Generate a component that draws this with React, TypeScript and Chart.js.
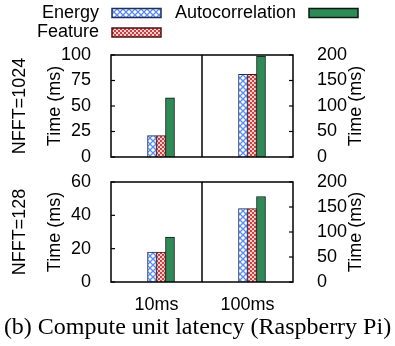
import React, { useEffect, useRef } from 'react';
import { Chart, registerables } from 'chart.js';

Chart.register(...registerables);

// ---------- data ----------
const categories = ['10ms', '100ms'];
const seriesNames = ['Energy', 'Feature', 'Autocorrelation'];
// NFFT=1024 (10ms on left axis, 100ms on right axis)
const energy1024 = [21, 162];
const feature1024 = [21, 162];
const autocorr1024 = [58, 198];
// NFFT=128
const energy128 = [18, 147];
const feature128 = [18, 147];
const autocorr128 = [27, 171];
const leftTicks1024 = [0, 25, 50, 75, 100];
const leftTicks128 = [0, 20, 40, 60];
const rightTicks = [0, 50, 100, 150, 200];
const panelLabels = ['NFFT=1024', 'NFFT=128'];
const axisTitle = 'Time (ms)';
const caption = '(b) Compute unit latency (Raspberry Pi)';

const FONT = '"Liberation Sans", Arial, Helvetica, sans-serif';

function energyPattern(): CanvasPattern | string {
  const c = document.createElement('canvas');
  c.width = 6;
  c.height = 6;
  const g = c.getContext('2d');
  if (!g) return '#6a9af0';
  g.fillStyle = '#ffffff';
  g.fillRect(0, 0, 6, 6);
  g.strokeStyle = '#5a8cf0';
  g.lineWidth = 1.3;
  g.beginPath();
  g.moveTo(-1, -1);
  g.lineTo(7, 7);
  g.moveTo(7, -1);
  g.lineTo(-1, 7);
  g.stroke();
  return g.createPattern(c, 'repeat') || '#6a9af0';
}

function featurePattern(): CanvasPattern | string {
  const c = document.createElement('canvas');
  c.width = 4;
  c.height = 4;
  const g = c.getContext('2d');
  if (!g) return '#d05050';
  g.fillStyle = '#f3d0d0';
  g.fillRect(0, 0, 4, 4);
  g.fillStyle = '#cc4040';
  g.fillRect(0, 0, 2, 2);
  g.fillRect(2, 2, 2, 2);
  return g.createPattern(c, 'repeat') || '#d05050';
}

function seriesStyles() {
  return [
    { backgroundColor: energyPattern(), borderColor: '#1f2f5a', borderWidth: 1 },
    { backgroundColor: featurePattern(), borderColor: '#4a1212', borderWidth: 1 },
    { backgroundColor: '#2e8b57', borderColor: '#0b1a10', borderWidth: 1 },
  ];
}

function buildDatasets(values: number[][]) {
  const styles = seriesStyles();
  const ds: any[] = [
    {
      label: '',
      data: categories.map(() => 0),
      yAxisID: 'y',
      backgroundColor: 'rgba(0,0,0,0)',
      borderWidth: 0,
      isSpacer: true,
    },
  ];
  values.forEach((v, i) => {
    ds.push({
      label: seriesNames[i],
      data: v.map((x, j) => (j === 0 ? x : null)),
      yAxisID: 'y',
      ...styles[i],
    });
    ds.push({
      label: seriesNames[i],
      data: v.map((x, j) => (j === 1 ? x : null)),
      yAxisID: 'y2',
      ...styles[i],
    });
  });
  return ds;
}

function decoPlugin(panelLabel: string, showLegend: boolean) {
  return {
    id: 'panelDeco',
    afterDatasetsDraw(chart: any) {
      const { ctx, chartArea: a, scales } = chart;
      ctx.save();
      ctx.strokeStyle = '#000';
      ctx.lineWidth = 1.5;
      ctx.strokeRect(a.left, a.top, a.right - a.left, a.bottom - a.top);
      // divider between the two halves
      const xs = scales.x;
      const mid = (xs.getPixelForValue(0) + xs.getPixelForValue(1)) / 2;
      ctx.beginPath();
      ctx.moveTo(mid, a.top);
      ctx.lineTo(mid, a.bottom);
      ctx.stroke();
      // inward tick marks
      ctx.lineWidth = 1.2;
      const yl = scales.y;
      yl.ticks.forEach((t: any) => {
        const py = yl.getPixelForValue(t.value);
        ctx.beginPath();
        ctx.moveTo(a.left, py);
        ctx.lineTo(a.left + 4, py);
        ctx.stroke();
      });
      const yr = scales.y2;
      yr.ticks.forEach((t: any) => {
        const py = yr.getPixelForValue(t.value);
        ctx.beginPath();
        ctx.moveTo(a.right - 4, py);
        ctx.lineTo(a.right, py);
        ctx.stroke();
      });
      // rotated titles
      ctx.fillStyle = '#000';
      ctx.font = `18px ${FONT}`;
      ctx.textAlign = 'center';
      ctx.textBaseline = 'middle';
      const cy = (a.top + a.bottom) / 2;
      const rot = (text: string, x: number) => {
        ctx.save();
        ctx.translate(x, cy);
        ctx.rotate(-Math.PI / 2);
        ctx.fillText(text, 0, 0);
        ctx.restore();
      };
      rot(panelLabel, a.left - 91);
      rot(axisTitle, a.left - 56);
      rot(axisTitle, a.right + 63);
      // legend
      if (showLegend) {
        const items = chart.data.datasets.filter((d: any) => !d.isSpacer && d.yAxisID === 'y');
        items.forEach((d: any, i: number) => {
          const col = Math.floor(i / 2);
          const row = i % 2;
          const textRight = 99 + col * 197;
          const cyL = 13 + row * 19.5;
          ctx.textAlign = 'right';
          ctx.textBaseline = 'middle';
          ctx.fillStyle = '#000';
          ctx.fillText(d.label, textRight, cyL);
          const sx = textRight + 13;
          ctx.fillStyle = d.backgroundColor;
          ctx.fillRect(sx, cyL - 4.5, 49, 9);
          ctx.strokeStyle = d.borderColor;
          ctx.lineWidth = 1.5;
          ctx.strokeRect(sx, cyL - 4.5, 49, 9);
        });
      }
      ctx.restore();
    },
  };
}

type PanelProps = {
  top: number;
  height: number;
  values: number[][];
  leftTicks: number[];
  label: string;
  showLegend: boolean;
  showX: boolean;
  padTop: number;
  padBottom: number;
  xHeight: number;
};

function Panel(p: PanelProps) {
  const ref = useRef<HTMLCanvasElement | null>(null);
  useEffect(() => {
    if (!ref.current) return;
    const tickFont = { family: FONT, size: 18 };
    const chart = new Chart(ref.current, {
      type: 'bar',
      data: { labels: categories, datasets: buildDatasets(p.values) },
      options: {
        animation: false,
        responsive: false,
        maintainAspectRatio: false,
        devicePixelRatio: 1,
        layout: { padding: { left: 0, right: 0, top: p.padTop, bottom: p.padBottom } },
        datasets: { bar: { barThickness: 9, skipNull: true } } as any,
        plugins: { legend: { display: false }, tooltip: { enabled: false }, title: { display: false } },
        scales: {
          x: {
            type: 'category',
            offset: true,
            grid: { display: false },
            border: { display: false },
            ticks: { display: p.showX, color: '#000', font: tickFont, padding: 4, maxRotation: 0, autoSkip: false },
            afterFit: (s: any) => {
              s.height = p.xHeight;
            },
          },
          y: {
            type: 'linear',
            position: 'left',
            min: p.leftTicks[0],
            max: p.leftTicks[p.leftTicks.length - 1],
            grid: { display: false },
            border: { display: false },
            ticks: { color: '#000', font: tickFont, padding: 12, autoSkip: false },
            afterBuildTicks: (s: any) => {
              s.ticks = p.leftTicks.map((v) => ({ value: v }));
            },
            afterFit: (s: any) => {
              s.width = 111;
            },
          },
          y2: {
            type: 'linear',
            position: 'right',
            min: rightTicks[0],
            max: rightTicks[rightTicks.length - 1],
            grid: { display: false },
            border: { display: false },
            ticks: { color: '#000', font: tickFont, padding: 16, autoSkip: false },
            afterBuildTicks: (s: any) => {
              s.ticks = rightTicks.map((v) => ({ value: v }));
            },
            afterFit: (s: any) => {
              s.width = 102;
            },
          },
        },
      } as any,
      plugins: [decoPlugin(p.label, p.showLegend)],
    });
    return () => chart.destroy();
  }, []);
  return (
    <canvas
      ref={ref}
      width={395}
      height={p.height}
      style={{ position: 'absolute', left: 0, top: p.top, width: 395, height: p.height }}
    />
  );
}

export default function App() {
  return (
    <div style={{ position: 'absolute', left: 0, top: 0, width: 395, height: 346, background: '#fff', overflow: 'hidden' }}>
      <Panel
        top={0}
        height={190}
        values={[energy1024, feature1024, autocorr1024]}
        leftTicks={leftTicks1024}
        label={panelLabels[0]}
        showLegend={true}
        showX={false}
        padTop={55}
        padBottom={33}
        xHeight={0}
      />
      <Panel
        top={148}
        height={198}
        values={[energy128, feature128, autocorr128]}
        leftTicks={leftTicks128}
        label={panelLabels[1]}
        showLegend={false}
        showX={true}
        padTop={34}
        padBottom={22}
        xHeight={42}
      />
      <div
        style={{
          position: 'absolute',
          left: 0,
          top: 312,
          width: 395,
          textAlign: 'center',
          fontFamily: '"Liberation Serif", "Times New Roman", serif',
          fontSize: 24,
          lineHeight: '28px',
          color: '#000',
          whiteSpace: 'nowrap',
        }}
      >
        {caption}
      </div>
    </div>
  );
}
